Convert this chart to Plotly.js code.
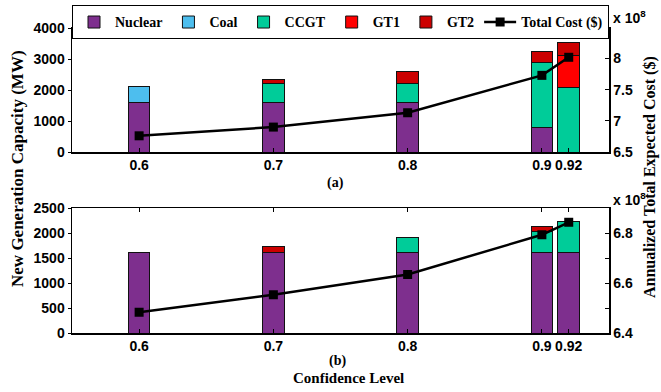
<!DOCTYPE html>
<html>
<head>
<meta charset="utf-8">
<script src="https://cdn.plot.ly/plotly-3.0.1.min.js"></script>
<style>html,body{margin:0;padding:0;background:#fff;}</style>
</head>
<body>
<div id="chart" style="width:661px;height:392px;"></div>
<script>
// ---- data ----
const confidence = [0.6, 0.7, 0.8, 0.9, 0.92];
const tickLabels = ['0.6', '0.7', '0.8', '0.9', '0.92'];
const seriesNames = ['Nuclear', 'Coal', 'CCGT', 'GT1', 'GT2'];
const seriesColors = ['#7E2F8E', '#4DBEEE', '#00CC99', '#FF0000', '#CC0000'];

// (a) capacity in MW
const nuclearA = [1600, 1600, 1600, 800, 0];
const coalA    = [500, 0, 0, 0, 0];
const ccgtA    = [0, 610, 610, 2090, 2070];
const gt1A     = [0, 0, 0, 0, 1050];
const gt2A     = [0, 120, 390, 350, 400];
// total cost, in units of 10^8 $
const costA    = [6.76, 6.90, 7.13, 7.73, 8.02];

// (b) capacity in MW
const nuclearB = [1610, 1610, 1610, 1610, 1610];
const coalB    = [0, 0, 0, 0, 0];
const ccgtB    = [0, 0, 310, 430, 620];
const gt1B     = [0, 0, 0, 0, 0];
const gt2B     = [0, 120, 0, 90, 0];
// total cost, in units of 10^8 $
const costB    = [6.483, 6.553, 6.634, 6.793, 6.843];

const seriesA = [nuclearA, coalA, ccgtA, gt1A, gt2A];
const seriesB = [nuclearB, coalB, ccgtB, gt1B, gt2B];

// ---- traces ----
const traces = [];
seriesNames.forEach((name, i) => {
  traces.push({
    type: 'bar', x: confidence, y: seriesA[i], name: name,
    width: 0.016, xaxis: 'x', yaxis: 'y', legendgroup: name,
    marker: {color: seriesColors[i], line: {color: '#111', width: 1}}
  });
});
seriesNames.forEach((name, i) => {
  traces.push({
    type: 'bar', x: confidence, y: seriesB[i], name: name, showlegend: false,
    width: 0.016, xaxis: 'x2', yaxis: 'y3', legendgroup: name,
    marker: {color: seriesColors[i], line: {color: '#111', width: 1}}
  });
});
traces.push({
  type: 'scatter', mode: 'lines+markers', x: confidence, y: costA,
  name: 'Total Cost ($)', xaxis: 'x', yaxis: 'y2',
  line: {color: '#000', width: 2.5}, marker: {symbol: 'square', size: 9, color: '#000'}
});
traces.push({
  type: 'scatter', mode: 'lines+markers', x: confidence, y: costB,
  name: 'Total Cost ($)', showlegend: false, xaxis: 'x2', yaxis: 'y4',
  line: {color: '#000', width: 2.5}, marker: {symbol: 'square', size: 9, color: '#000'}
});

// ---- layout ----
const tickFont = {family: 'Liberation Sans, Arial, sans-serif', size: 14, color: '#000', weight: 'bold'};
const serif = {family: 'Liberation Serif, Times New Roman, serif', size: 15, color: '#000', weight: 'bold'};

function xAxis(anchor) {
  return {
    anchor: anchor, domain: [0, 1], range: [0.55, 0.95],
    tickvals: confidence, ticktext: tickLabels, tickangle: 0,
    ticks: 'inside', ticklen: 4, tickcolor: '#000', mirror: 'ticks',
    showline: true, linecolor: '#000', linewidth: 1.5,
    showgrid: false, zeroline: false, tickfont: tickFont, automargin: false
  };
}
function leftAxis(anchor, domain, range, dtick) {
  return {
    anchor: anchor, domain: domain, range: range, dtick: dtick,
    ticks: 'outside', ticklen: 3, tickcolor: '#000',
    showline: true, linecolor: '#000', linewidth: 1.5,
    showgrid: false, zeroline: false, tickfont: tickFont, automargin: false
  };
}
function rightAxis(anchor, overlay, range, tick0, dtick, minorDtick) {
  const ax = {
    anchor: anchor, overlaying: overlay, side: 'right', range: range,
    tickmode: 'linear', tick0: tick0, dtick: dtick,
    ticks: 'inside', ticklen: 4, tickcolor: '#000',
    showline: true, linecolor: '#000', linewidth: 1.5,
    showgrid: false, zeroline: false, tickfont: tickFont, automargin: false
  };
  if (minorDtick) ax.minor = {dtick: minorDtick, tick0: tick0, ticks: 'inside', ticklen: 4, tickcolor: '#000', showgrid: false};
  return ax;
}

const layout = {
  width: 661, height: 392,
  margin: {l: 72, r: 52, t: 28, b: 59, autoexpand: false},
  paper_bgcolor: '#fff', plot_bgcolor: '#fff',
  barmode: 'stack',
  showlegend: true,
  legend: {
    orientation: 'h', x: 0, xanchor: 'left', y: 1.074, yanchor: 'top',
    bgcolor: '#fff', bordercolor: '#000', borderwidth: 1,
    font: {family: 'Liberation Serif, Times New Roman, serif', size: 14, color: '#000', weight: 'bold'},
    itemwidth: 32, traceorder: 'normal'
  },
  xaxis: xAxis('y'),
  xaxis2: xAxis('y3'),
  yaxis: leftAxis('x', [0.5934, 1], [0, 4000], 1000),
  yaxis2: rightAxis('x', 'y', [6.5, 8.49], 6.5, 0.5, null),
  yaxis3: leftAxis('x2', [0, 0.4098], [0, 2500], 500),
  yaxis4: rightAxis('x2', 'y3', [6.4, 6.9], 6.4, 0.2, 0.1),
  annotations: [
    {text: 'New Generation Capacity (MW)', xref: 'paper', yref: 'paper', x: -0.1006, y: 0.541,
     textangle: -90, showarrow: false, xanchor: 'center', yanchor: 'middle', font: Object.assign({}, serif, {size: 17})},
    {text: 'Annualized Total Expected Cost ($)', xref: 'paper', yref: 'paper', x: 1.0764, y: 0.5115,
     textangle: -90, showarrow: false, xanchor: 'center', yanchor: 'middle', font: Object.assign({}, serif, {size: 16})},
    {text: 'x 10<sup>8</sup>', xref: 'paper', yref: 'paper', x: 1.004, y: 1.035,
     showarrow: false, xanchor: 'left', yanchor: 'middle', font: tickFont},
    {text: 'x 10<sup>8</sup>', xref: 'paper', yref: 'paper', x: 1.004, y: 0.44,
     showarrow: false, xanchor: 'left', yanchor: 'middle', font: tickFont},
    {text: '(a)', xref: 'paper', yref: 'paper', x: 0.4898, y: 0.4918,
     showarrow: false, xanchor: 'center', yanchor: 'middle', font: Object.assign({}, serif, {size: 14})},
    {text: '(b)', xref: 'paper', yref: 'paper', x: 0.4935, y: -0.0918,
     showarrow: false, xanchor: 'center', yanchor: 'middle', font: Object.assign({}, serif, {size: 14})},
    {text: 'Confidence Level', xref: 'paper', yref: 'paper', x: 0.514, y: -0.1475,
     showarrow: false, xanchor: 'center', yanchor: 'middle', font: serif}
  ]
};

Plotly.newPlot('chart', traces, layout, {displayModeBar: false, staticPlot: true});
</script>
</body>
</html>
